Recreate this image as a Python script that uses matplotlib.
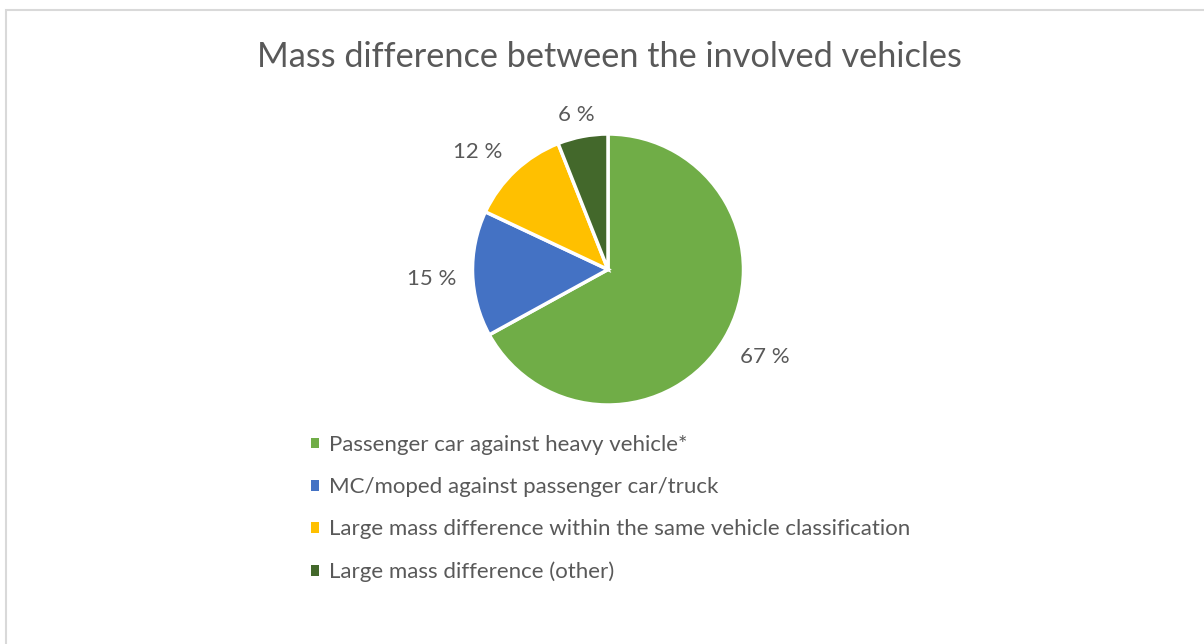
import numpy as np
import matplotlib.pyplot as plt
from matplotlib.patches import Rectangle

categories = [
    "Passenger car against heavy vehicle*",
    "MC/moped against passenger car/truck",
    "Large mass difference within the same vehicle classification",
    "Large mass difference (other)",
]
shares = [67, 15, 12, 6]
colors = ["#70AD47", "#4472C4", "#FFC000", "#43682B"]
# label radius and nudges (axes units, radius = 1)
label_dist = [1.33, 1.30, 1.33, 1.17]
label_nudge = [(0.01, 0.03), (0.0, -0.03), (-0.05, -0.10), (-0.015, -0.008)]

plt.rcParams["font.family"] = ["Lato", "DejaVu Sans"]
text_color = "#595959"

W, H = 1204, 644
fig = plt.figure(figsize=(W / 100, H / 100), dpi=100)

# light chart frame (runs off the right/bottom edge)
fig.patches.append(Rectangle((6 / W, -0.1), 1.2, 1 - 10 / H + 0.1,
                             transform=fig.transFigure, fill=False,
                             edgecolor="#D9D9D9", linewidth=1.5))

fig.text(609 / W, 1 - 57 / H, "Mass difference between the involved vehicles",
         ha="center", va="center", fontsize=24.7, color=text_color)

cx, cy, r = 608, 269.5, 135.5
ax = fig.add_axes([(cx - r) / W, (H - cy - r) / H, 2 * r / W, 2 * r / H])
wedges, _ = ax.pie(shares, colors=colors, startangle=90, counterclock=False,
                   wedgeprops=dict(edgecolor="white", linewidth=2.5))
ax.set_aspect("equal")
ax.set_xlim(-1, 1)
ax.set_ylim(-1, 1)

for w, v, d, (nx, ny) in zip(wedges, shares, label_dist, label_nudge):
    ang = np.deg2rad((w.theta1 + w.theta2) / 2)
    ax.text(d * np.cos(ang) + nx, d * np.sin(ang) + ny, f"{v} %", ha="center",
            va="center", fontsize=16, color=text_color, clip_on=False)

handles = [Rectangle((0, 0), 1, 1, facecolor=c) for c in colors]
leg = fig.legend(handles, categories, loc="upper left",
                 bbox_to_anchor=(302 / W, 1 - 426 / H), frameon=False,
                 fontsize=16, handlelength=0.37, handleheight=0.37,
                 handletextpad=0.45, labelspacing=1.0, borderaxespad=0)
for t in leg.get_texts():
    t.set_color(text_color)

fig.savefig("out.png", dpi=100)
